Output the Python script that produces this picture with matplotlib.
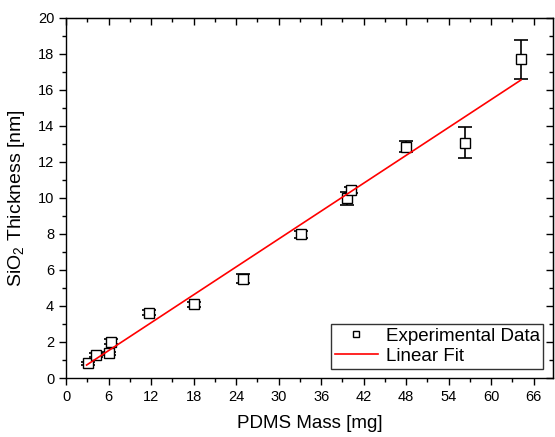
import matplotlib
matplotlib.use("Agg")
import matplotlib.pyplot as plt

plt.rcParams['font.family'] = ['Liberation Sans', 'DejaVu Sans']
plt.rcParams['mathtext.default'] = 'regular'

# PDMS mass [mg] vs SiO2 thickness [nm]
mass = [3.15, 4.2, 6.1, 6.3, 11.75, 18.1, 25.0, 33.2, 39.6, 40.2, 48.0, 56.3, 64.2]
thickness = [0.81, 1.28, 1.37, 2.02, 3.63, 4.09, 5.5, 7.98, 9.98, 10.44, 12.85, 13.07, 17.7]
thickness_err = [0.1, 0.1, 0.1, 0.15, 0.15, 0.15, 0.25, 0.2, 0.35, 0.15, 0.3, 0.85, 1.1]

# linear fit endpoints
fit_x = [2.9, 64.2]
fit_y = [0.72, 16.55]

fig = plt.figure(figsize=(5.55, 4.37), dpi=100)
ax = fig.add_axes([0.119, 0.135, 0.877, 0.824])

ax.errorbar(mass, thickness, yerr=thickness_err, fmt='none', ecolor='black',
            elinewidth=1.2, capsize=4.8, capthick=1.2, zorder=2)
ax.plot(mass, thickness, 's', ms=7.5, mfc='white', mec='black', mew=1.0,
        zorder=3, label='Experimental Data')
ax.plot(fit_x, fit_y, '-', color='red', lw=1.2, zorder=4, label='Linear Fit')

ax.set_xlim(0, 68.7)
ax.set_ylim(0, 20)
ax.set_xticks(range(0, 67, 6))
ax.set_xticks(range(3, 67, 6), minor=True)
ax.set_yticks(range(0, 21, 2))
ax.set_yticks(range(1, 20, 2), minor=True)

ax.tick_params(which='both', direction='out', top=False, right=False, labelsize=10.5, width=1)
ax.tick_params(which='major', length=5)
ax.tick_params(which='minor', length=3)

# inward ticks on top and right
sec = ax.secondary_xaxis('top')
sec.set_xticks(range(0, 67, 6))
sec.set_xticks(range(3, 67, 6), minor=True)
sec.tick_params(which='both', direction='in', labeltop=False, width=1)
sec.tick_params(which='major', length=5)
sec.tick_params(which='minor', length=3)
sec.set_xticklabels([])
secy = ax.secondary_yaxis('right')
secy.set_yticks(range(0, 21, 2))
secy.set_yticks(range(1, 20, 2), minor=True)
secy.tick_params(which='both', direction='in', labelright=False, width=1)
secy.tick_params(which='major', length=5)
secy.tick_params(which='minor', length=3)
secy.set_yticklabels([])

for s in ax.spines.values():
    s.set_linewidth(1.0)

ax.set_xlabel('PDMS Mass [mg]', fontsize=13.5, labelpad=8)
ax.set_ylabel('SiO$_2$ Thickness [nm]', fontsize=14, labelpad=8)

leg = ax.legend(loc='lower right', fontsize=13.5, frameon=True, fancybox=False,
                edgecolor='black', borderaxespad=0.5, handlelength=2.3,
                handletextpad=0.4, markerscale=0.65,
                labelspacing=0.15, borderpad=0.2)
leg.get_frame().set_linewidth(1.0)

fig.savefig('out.png', dpi=100)
